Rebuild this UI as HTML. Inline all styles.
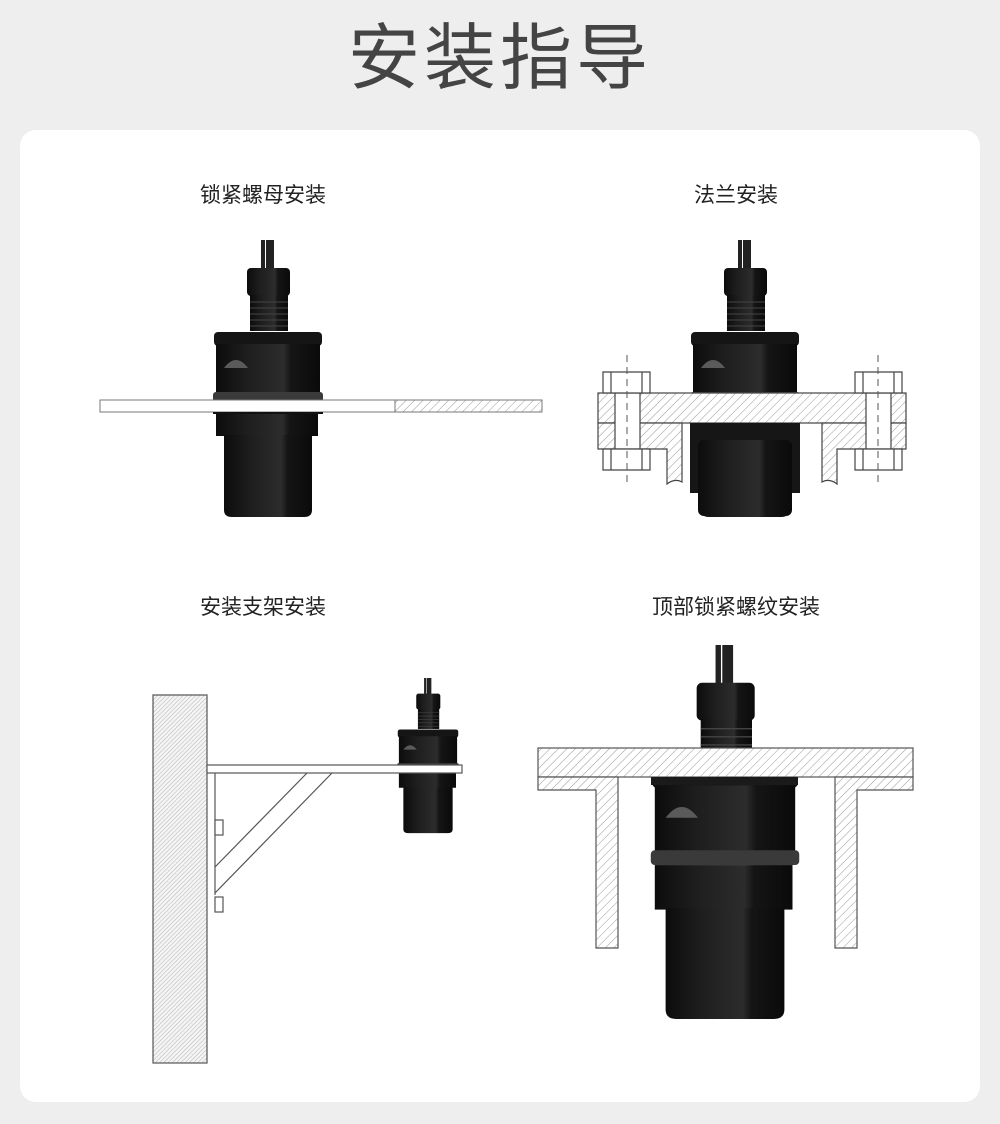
<!DOCTYPE html>
<html><head><meta charset="utf-8"><style>
html,body{margin:0;padding:0;background:#eeeeee;}
body{width:1000px;height:1124px;position:relative;overflow:hidden;font-family:"Liberation Sans","Noto Sans CJK SC",sans-serif;}
.t{position:absolute;left:0;width:1000px;top:12px;text-align:center;font-size:72px;color:#444;letter-spacing:4px;line-height:94px;}
.card{position:absolute;left:20px;top:130px;width:960px;height:972px;background:#fff;border-radius:16px;}
.l{position:absolute;font-size:21px;color:#222;text-align:center;width:300px;}
svg{position:absolute;left:0;top:0;}
</style></head><body>
<div class="t">安装指导</div>
<div class="card"></div>
<div class="l" style="left:113px;top:179px">锁紧螺母安装</div>
<div class="l" style="left:586px;top:179px">法兰安装</div>
<div class="l" style="left:113px;top:591px">安装支架安装</div>
<div class="l" style="left:586px;top:591px">顶部锁紧螺纹安装</div>
<svg width="1000" height="1124" viewBox="0 0 1000 1124">
<defs>
<pattern id="h" width="6" height="6" patternUnits="userSpaceOnUse" patternTransform="rotate(45)">
<rect width="6" height="6" fill="#fff"/><line x1="0" y1="0" x2="0" y2="6" stroke="#9a9a9a" stroke-width="1"/></pattern>
<pattern id="w" width="3" height="3" patternUnits="userSpaceOnUse" patternTransform="rotate(45)">
<rect width="3" height="3" fill="#f4f4f4"/><line x1="0" y1="0" x2="0" y2="3" stroke="#b5b5b5" stroke-width="1"/></pattern>
<linearGradient id="g" x1="0" x2="1">
<stop offset="0" stop-color="#0c0c0c"/><stop offset="0.3" stop-color="#1e1e1e"/><stop offset="0.65" stop-color="#2c2c2c"/><stop offset="0.72" stop-color="#151515"/><stop offset="1" stop-color="#0a0a0a"/></linearGradient>
<g id="s">
<path d="M-5 0 L-5 30 M0 0 L0 30 M4 0 L4 30" stroke="#222" stroke-width="4"/>
<rect x="-21" y="28" width="43" height="28" rx="4" fill="url(#g)"/>
<rect x="-18" y="55" width="38" height="36" fill="url(#g)"/>
<path d="M-18 62H20M-18 68H20M-18 74H20M-18 80H20M-18 86H20" stroke="#444" stroke-width="1"/>
<rect x="-54" y="92" width="108" height="14" rx="4" fill="#151515"/>
<rect x="-52" y="104" width="104" height="50" fill="url(#g)"/>
<path d="M-44 128 Q-32 112 -20 128Z" fill="#5a5a5a"/>
<rect x="-55" y="152" width="110" height="11" rx="3" fill="#3a3a3a"/>
<rect x="-52" y="163" width="102" height="33" fill="url(#g)"/>
<path d="M-44 195 H44 V270 Q44 277 36 277 H-36 Q-44 277 -44 270Z" fill="url(#g)"/>
</g>
</defs>

<use href="#s" transform="translate(268,240)"/>
<rect x="100" y="400" width="442" height="12" fill="#fff" stroke="#777" stroke-width="1"/>
<rect x="395" y="400" width="147" height="12" fill="url(#h)" stroke="#777" stroke-width="1"/>
<rect x="213" y="412" width="110" height="2" fill="#111"/>

<use href="#s" transform="translate(745,240)"/>
<g stroke="#444" stroke-width="1.2">
<rect x="598" y="393" width="308" height="30" fill="url(#h)"/>
<path d="M598 423 H682 V482 Q675 478 667 484 V449 H598Z" fill="url(#h)"/>
<path d="M906 423 H822 V482 Q829 478 837 484 V449 H906Z" fill="url(#h)"/>
<rect x="690" y="423" width="110" height="70" fill="#161616" stroke="none"/>
<rect x="698" y="440" width="94" height="76" rx="6" fill="url(#g)" stroke="none"/>
<rect x="615" y="393" width="25" height="56" fill="#fff"/>
<rect x="866" y="393" width="25" height="56" fill="#fff"/>
<path d="M603 372 H650 V393 H603Z M611 372 V393 M642 372 V393" fill="#fff"/>
<path d="M603 449 H650 V470 H603Z M611 449 V470 M642 449 V470" fill="#fff"/>
<path d="M855 372 H902 V393 H855Z M863 372 V393 M894 372 V393" fill="#fff"/>
<path d="M855 449 H902 V470 H855Z M863 449 V470 M894 449 V470" fill="#fff"/>
</g>
<path d="M627 355 V487 M878 355 V487" stroke="#555" stroke-width="1" stroke-dasharray="7,5"/>

<rect x="153" y="695" width="54" height="368" fill="url(#w)" stroke="#555" stroke-width="1.2"/>
<use href="#s" transform="translate(428,678) scale(0.56)"/>
<g stroke="#555" stroke-width="1.2" fill="none">
<rect x="207" y="765" width="255" height="8" fill="#fff"/>
<path d="M215 773 V895"/>
<path d="M307 773 L215 867 M332 773 L215 893"/>
<rect x="215" y="820" width="8" height="15" fill="#fff"/>
<rect x="215" y="897" width="8" height="15" fill="#fff"/>
</g>

<use href="#s" transform="translate(725,645) scale(1.35)"/>
<g stroke="#555" stroke-width="1.2">
<rect x="538" y="748" width="375" height="29" fill="url(#h)"/>
<path d="M538 777 H618 V948 H596 V790 H538Z" fill="url(#h)"/>
<path d="M913 777 H835 V948 H857 V790 H913Z" fill="url(#h)"/>
</g>
<rect x="651" y="777" width="147" height="8" fill="#1a1a1a"/>
</svg>
</body></html>
